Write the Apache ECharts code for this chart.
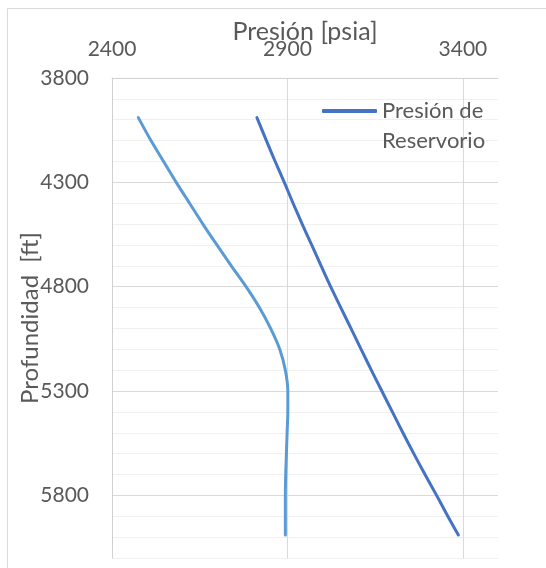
<!DOCTYPE html>
<html>
<head>
<meta charset="utf-8">
<script src="https://cdn.jsdelivr.net/npm/echarts@6/dist/echarts.min.js"></script>
<style>
html,body{margin:0;padding:0;background:#fff;}
#c{width:546px;height:568px;}
</style>
</head>
<body>
<div id="c"></div>
<script>
// Depth [ft] and pressure [psia] values
var depthFondo = [3990, 4100, 4200, 4300, 4400, 4500, 4600, 4700, 4800, 4900, 5000, 5100, 5200, 5300, 5400, 5500, 5600, 5700, 5800, 5900, 5990];
var presionFondo = [2475, 2511, 2547, 2583, 2621, 2659, 2699, 2740, 2782, 2820, 2852, 2878, 2894, 2901, 2901, 2899, 2897, 2895, 2894, 2894, 2894];

var depthReservorio = [3990, 4100, 4200, 4300, 4400, 4500, 4600, 4700, 4800, 4900, 5000, 5100, 5200, 5300, 5400, 5500, 5600, 5700, 5800, 5900, 5990];
var presionReservorio = [2813, 2840, 2865, 2891, 2916, 2942, 2969, 2996, 3023, 3052, 3081, 3110, 3139, 3169, 3199, 3229, 3260, 3292, 3325, 3357, 3387];

var xTicks = [2400, 2900, 3400];
var yTicks = [3800, 4300, 4800, 5300, 5800];

var serieReservorio = 'Presión de Reservorio';
var serieFondo = 'Presión';

function pairs(xs, ys) {
  var out = [];
  for (var i = 0; i < xs.length; i++) out.push([xs[i], ys[i]]);
  return out;
}

var FONT = 'Lato';
var TXT = '#595959';

var chart = echarts.init(document.getElementById('c'), null, {renderer: 'canvas'});
chart.setOption({
  animation: false,
  backgroundColor: '#ffffff',
  textStyle: {fontFamily: FONT},
  graphic: [{
    type: 'rect',
    z: -10,
    silent: true,
    shape: {x: 7.5, y: 8.5, width: 600, height: 600},
    style: {fill: 'none', stroke: '#d9d9d9', lineWidth: 1}
  }],
  grid: {left: 112, right: 48, top: 78, bottom: 10, containLabel: false, outerBoundsMode: 'none'},
  legend: {
    data: [serieReservorio],
    left: 322,
    top: 66,
    padding: 0,
    icon: 'roundRect',
    itemWidth: 55,
    itemHeight: 4,
    formatter: function () { return '\nPresión de\nReservorio'; },
    textStyle: {
      fontFamily: FONT, fontSize: 22, color: TXT,
      lineHeight: 30
    }
  },
  xAxis: {
    type: 'value',
    position: 'top',
    min: 2400,
    max: 3500,
    interval: 500,
    name: 'Presión [psia]',
    nameLocation: 'middle',
    nameGap: 34,
    nameMoveOverlap: false,
    nameTextStyle: {fontFamily: FONT, fontSize: 25, color: TXT},
    axisLine: {show: true, lineStyle: {color: '#d0d0d0', width: 1}},
    axisTick: {show: false},
    axisLabel: {
      fontFamily: FONT, fontSize: 21, color: TXT, margin: 18,
      formatter: function (v) { return xTicks.indexOf(v) >= 0 ? String(v) : ''; }
    },
    splitLine: {show: true, showMinLine: false, showMaxLine: false, lineStyle: {color: '#d9d9d9', width: 1}}
  },
  yAxis: {
    type: 'value',
    inverse: true,
    min: 3800,
    max: 6100,
    interval: 100,
    name: 'Profundidad  [ft]',
    nameLocation: 'middle',
    nameGap: 70,
    nameMoveOverlap: false,
    nameTextStyle: {fontFamily: FONT, fontSize: 24, color: TXT},
    axisLine: {show: true, lineStyle: {color: '#d0d0d0', width: 1}},
    axisTick: {show: false},
    axisLabel: {
      fontFamily: FONT, fontSize: 21, color: TXT, margin: 23,
      formatter: function (v) { return yTicks.indexOf(v) >= 0 ? String(v) : ''; }
    },
    splitLine: {
      show: true,
      lineStyle: {color: ['#d9d9d9', '#f0f0f0', '#f0f0f0', '#f0f0f0', '#f0f0f0'], width: 1}
    }
  },
  series: [
    {
      name: serieFondo,
      type: 'line',
      data: pairs(presionFondo, depthFondo),
      showSymbol: false,
      symbol: 'none',
      smooth: 0.3,
      lineStyle: {color: '#5B9BD5', width: 3, cap: 'round', join: 'round'},
      itemStyle: {color: '#5B9BD5'},
      z: 3
    },
    {
      name: serieReservorio,
      type: 'line',
      data: pairs(presionReservorio, depthReservorio),
      showSymbol: false,
      symbol: 'none',
      smooth: 0.15,
      lineStyle: {color: '#4472C4', width: 3, cap: 'round', join: 'round'},
      itemStyle: {color: '#4472C4'},
      z: 4
    }
  ]
});
</script>
</body>
</html>
